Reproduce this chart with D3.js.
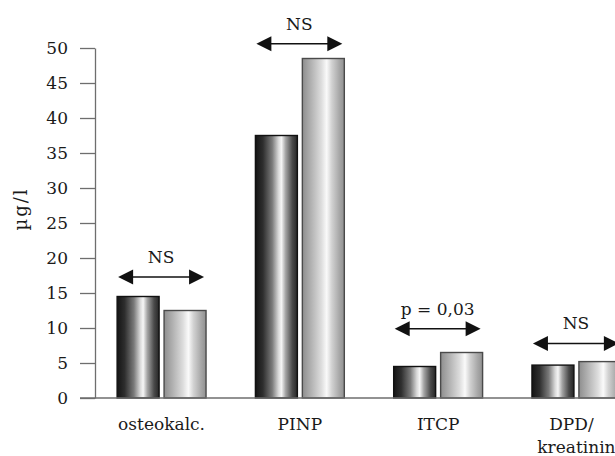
<!DOCTYPE html>
<html>
<head>
<meta charset="utf-8">
<script src="https://cdn.jsdelivr.net/npm/d3@7"></script>
<style>
  html, body { margin: 0; padding: 0; background: #fff; }
  svg { display: block; }
  text { font-family: "DejaVu Serif", serif; fill: #1a1a1a; }
</style>
</head>
<body>
<svg id="chart" width="615" height="456"></svg>
<script>
// Bone turnover markers, two groups per marker
const categories = ["osteokalc.", "PINP", "ITCP", "DPD/\nkreatinin"];
const groupA = [14.5, 37.5, 4.5, 4.7];
const groupB = [12.5, 48.5, 6.5, 5.2];
const significance = ["NS", "NS", "p = 0,03", "NS"];
const bracketLevel = [17.3, 50.6, 9.9, 7.8];
const yTicks = [0, 5, 10, 15, 20, 25, 30, 35, 40, 45, 50];
const yLabel = "µg/l";

const svg = d3.select("#chart");
const axisX = 95, zeroY = 398, topY = 48;
const fs = 17;

const y = d3.scaleLinear().domain([0, 50]).range([zeroY, topY]);
const x = d3.scaleBand().domain(categories).range([axisX, 643])
  .paddingInner(0.357).paddingOuter(0.16);
const xs = d3.scaleBand().domain([0, 1]).range([0, x.bandwidth()]).paddingInner(0.106);

// gradients for the cylindrical bar shading
const defs = svg.append("defs");
function grad(id, stops) {
  const g = defs.append("linearGradient").attr("id", id)
    .attr("x1", "0%").attr("x2", "100%").attr("y1", "0%").attr("y2", "0%");
  stops.forEach(([o, c]) => g.append("stop").attr("offset", o).attr("stop-color", c));
}
grad("darkBar", [["0%", "#141414"], ["18%", "#2e2e2e"], ["40%", "#7a7a7a"], ["55%", "#d8d8d8"], ["62%", "#f6f6f6"], ["72%", "#a4a4a4"], ["88%", "#4a4a4a"], ["100%", "#262626"]]);
grad("lightBar", [["0%", "#8e8e8e"], ["20%", "#b0b0b0"], ["45%", "#dcdcdc"], ["58%", "#fafafa"], ["70%", "#d2d2d2"], ["88%", "#a8a8a8"], ["100%", "#909090"]]);

// y axis
const yAxis = d3.axisLeft(y).tickValues(yTicks).tickSize(15).tickPadding(12).tickSizeOuter(0);
const gy = svg.append("g").attr("transform", `translate(${axisX},0)`).call(yAxis);
gy.attr("font-family", null).attr("font-size", null);
gy.select(".domain").attr("stroke", "#6e6e6e").attr("stroke-width", 1.3);
gy.selectAll(".tick line").attr("stroke", "#6e6e6e").attr("stroke-width", 1.3);
gy.selectAll(".tick text").attr("font-size", fs).attr("fill", "#1a1a1a");

svg.append("text")
  .attr("transform", "translate(27,209) rotate(-90)")
  .attr("text-anchor", "middle").attr("font-size", fs + 1).attr("letter-spacing", 2)
  .text(yLabel);

// bars
const rows = categories.map((c, i) => ({ c, i, vals: [groupA[i], groupB[i]] }));
const groups = svg.append("g").selectAll("g").data(rows).join("g")
  .attr("transform", d => `translate(${x(d.c)},0)`);

groups.selectAll("rect").data(d => d.vals.map((v, k) => ({ v, k }))).join("rect")
  .attr("x", d => xs(d.k))
  .attr("width", xs.bandwidth())
  .attr("y", d => y(d.v))
  .attr("height", d => y(0) - y(d.v))
  .attr("fill", d => d.k === 0 ? "url(#darkBar)" : "url(#lightBar)")
  .attr("stroke", d => d.k === 0 ? "#111" : "#4a4a4a")
  .attr("stroke-width", 1.4);

// baseline
svg.append("line").attr("x1", 80).attr("x2", 615).attr("y1", zeroY).attr("y2", zeroY)
  .attr("stroke", "#6e6e6e").attr("stroke-width", 1.6);

// significance brackets (double-headed arrows)
const head = 15, half = 7.5;
groups.each(function (d) {
  const g = d3.select(this);
  const x0 = 1, x1 = x.bandwidth() - 2;
  const yy = y(bracketLevel[d.i]);
  g.append("line").attr("x1", x0 + head - 2).attr("x2", x1 - head + 2)
    .attr("y1", yy).attr("y2", yy).attr("stroke", "#111").attr("stroke-width", 1.5);
  g.append("path").attr("d", `M${x0},${yy}L${x0 + head},${yy - half}L${x0 + head},${yy + half}Z`).attr("fill", "#111");
  g.append("path").attr("d", `M${x1},${yy}L${x1 - head},${yy - half}L${x1 - head},${yy + half}Z`).attr("fill", "#111");
  g.append("text").attr("x", (x0 + x1) / 2).attr("y", yy - 14)
    .attr("text-anchor", "middle").attr("font-size", fs)
    .text(significance[d.i]);
});

// category labels
groups.each(function (d) {
  const lines = d.c.split("\n");
  const t = d3.select(this).append("text")
    .attr("text-anchor", "middle").attr("font-size", fs);
  lines.forEach((ln, j) => {
    t.append("tspan").attr("x", x.bandwidth() / 2 + (j === 0 && lines.length > 1 ? -5 : 0))
      .attr("y", 430 + j * 23).text(ln);
  });
});
</script>
</body>
</html>
